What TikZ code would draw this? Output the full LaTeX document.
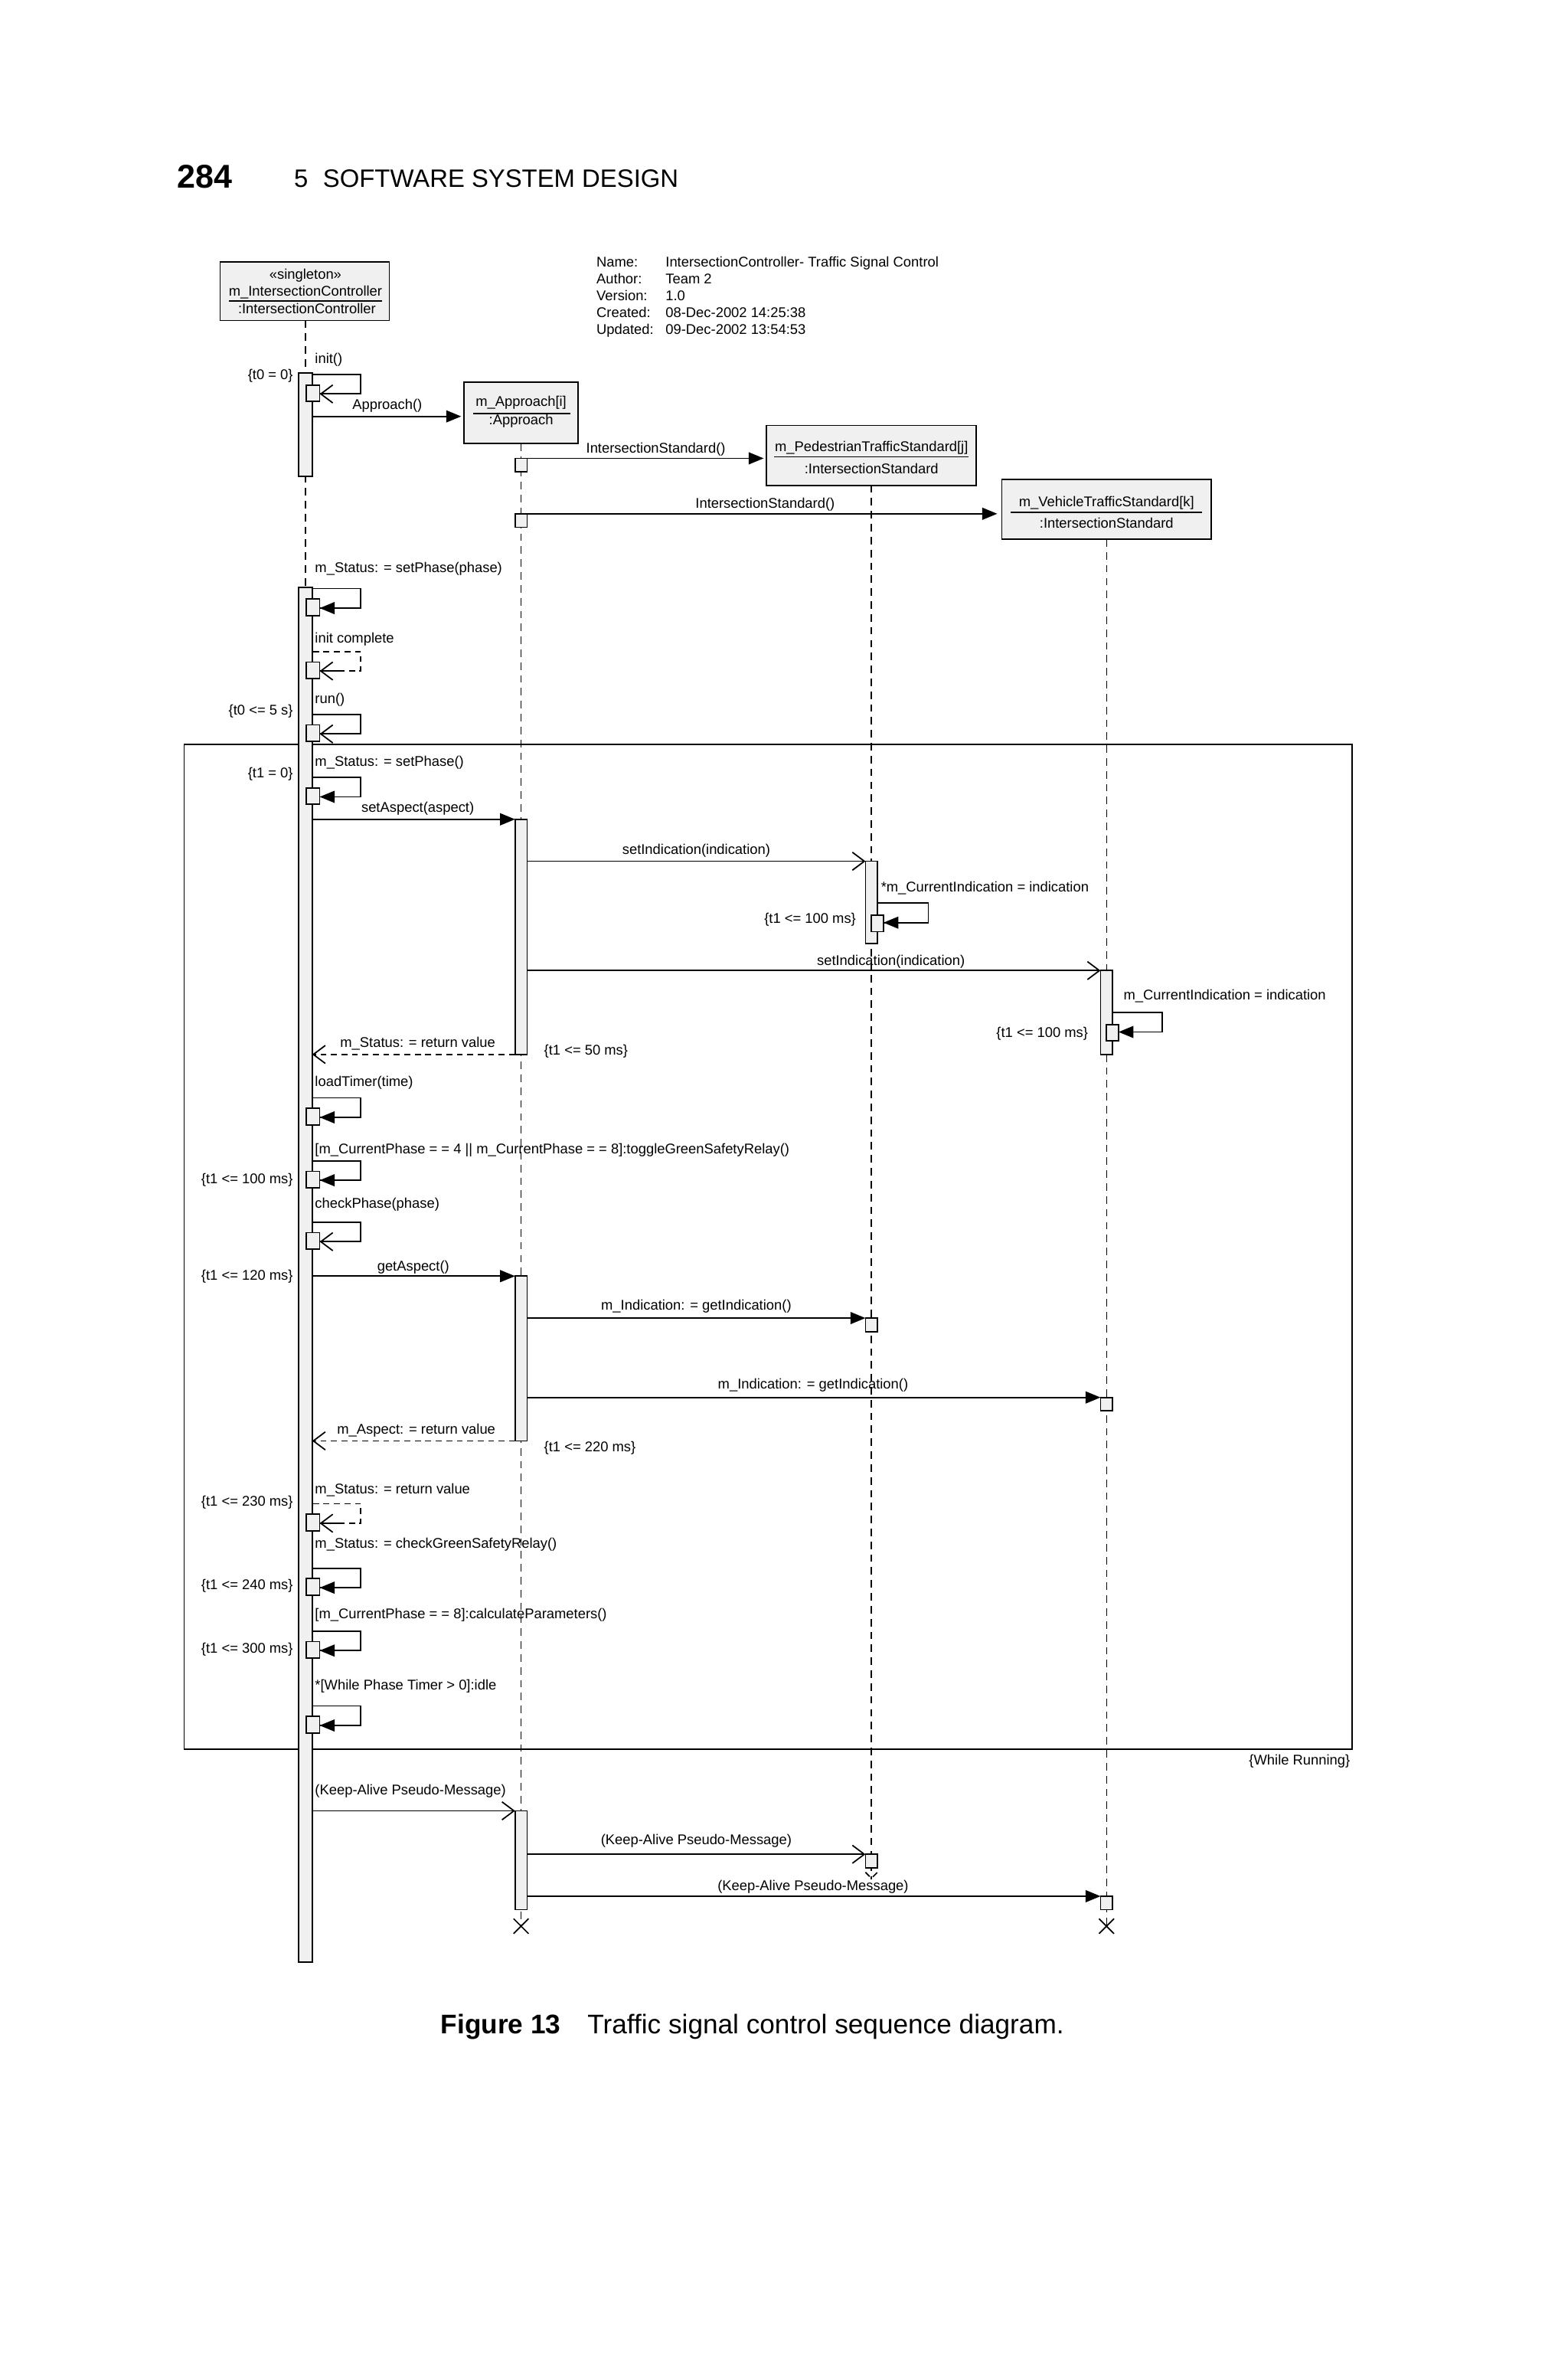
\documentclass[tikz,border=0pt]{standalone}
\usepackage{fontspec}
\setmainfont{Liberation Sans}
\usetikzlibrary{arrows.meta}
\definecolor{actgray}{HTML}{F0F0F0}
\newcommand\lbl[3]{\node[txt,anchor=west] at (#1,#2) {#3};}
\newcommand\rlbl[3]{\node[txt,anchor=east] at (#1,#2) {#3};}
\newcommand\clbl[3]{\node[txt] at (#1,#2) {#3};}
% self message on controller: #1 top y, #2 tip style, #3 line style
\newcommand\selfm[3]{%
  \draw[ln,#3] (209,#1) -- (241,#1) -- (241,{#1+13}) -- (213.5,{#1+13});
  \draw[ln,#2] (226,{#1+13}) -- (213.5,{#1+13});
  \draw[box] (204.5,{#1+7}) rectangle (213.5,{#1+18});}
\begin{document}
\begin{tikzpicture}[x=0.5pt,y=-0.5pt,
  txt/.style={font=\fontsize{4.7}{5.6}\selectfont,inner sep=0.5pt},
  ln/.style={line width=0.45pt},
  life/.style={line width=0.4pt,dash pattern=on 2.5pt off 1.8pt},
  box/.style={ln,fill=actgray},
  obj/.style={ln,fill=actgray,align=center,font=\fontsize{4.7}{5.6}\selectfont,inner sep=2pt},
  fill tip/.style={-{Triangle[length=5pt,width=4pt]}},
  open tip/.style={-{Straight Barb[length=4pt,width=6pt]}},
  none/.style={},
  dsh/.style={dash pattern=on 2pt off 1.5pt}]
\useasboundingbox (0,0) rectangle (1047,1581);
% page header and caption
\node[anchor=west,font=\fontsize{11}{13}\selectfont\bfseries,inner sep=0] (pg) at (118,118) {284};
\node[anchor=west,font=\fontsize{8.4}{10}\selectfont,inner sep=0] (ch) at (196,119) {5\hspace{5pt}SOFTWARE SYSTEM DESIGN};
\node[anchor=west,font=\fontsize{9}{11}\selectfont,inner sep=0] (cap) at (294,1353) {\textbf{Figure 13}\hspace{9pt}Traffic signal control sequence diagram.};
% info block
\node[txt,anchor=north west,align=left] (info) at (397,169) {\begin{tabular}{@{}l@{\hspace{4pt}}l@{}}Name: & IntersectionController- Traffic Signal Control\\ Author: & Team 2\\ Version: & 1.0\\ Created: & 08-Dec-2002 14:25:38\\ Updated: & 09-Dec-2002 13:54:53\end{tabular}};
% lifelines
\draw[life] (204,214) -- (204,1310);
\draw[life] (348,296) -- (348,1286);
\draw[life] (582,324) -- (582,1255);
\draw[life] (739,360) -- (739,1286);
% objects
\draw[box] (147,175) rectangle (260,214);
\node[txt] (c1) at (204,184) {<<singleton>>};
\node[txt] (c2) at (204,195) {m\_IntersectionController};
\draw[ln] (153,201) -- (255,201);
\node[txt] (c3) at (205,206) {:IntersectionController};
\draw[box] (310,255) rectangle (386,296);
\node[txt] (a1) at (348,269) {m\_Approach[i]};
\draw[ln] (316,276) -- (381,276);
\node[txt] (a2) at (348,281) {:Approach};
\draw[box] (512,284) rectangle (652,324);
\node[txt] (p1) at (582,299) {m\_PedestrianTrafficStandard[j]};
\draw[ln] (517,305) -- (647,305);
\node[txt] (p2) at (582,313) {:IntersectionStandard};
\draw[box] (669,320) rectangle (809,360);
\node[txt] (v1) at (739,336) {m\_VehicleTrafficStandard[k]};
\draw[ln] (675,342) -- (803,342);
\node[txt] (v2) at (739,349) {:IntersectionStandard};
% frame
\draw[ln] (123,497) rectangle (903,1168);
\rlbl{903}{1176}{\{While Running\}}
% controller activations
\draw[box] (199.5,249) rectangle (208.5,318);
\draw[box] (199.5,392) rectangle (208.5,1310);
% init
\lbl{209}{240}{init()}
\rlbl{197}{251}{\{t0 = 0\}}
\selfm{250}{open tip}{none}
\lbl{234}{271}{Approach()}
\draw[ln,fill tip] (208.5,278) -- (308,278);
% approach creates standards
\draw[box] (344,306) rectangle (352,315);
\clbl{438}{300}{IntersectionStandard()}
\draw[ln,fill tip] (352,306) -- (510,306);
\draw[box] (344,343) rectangle (352,352);
\clbl{511}{337}{IntersectionStandard()}
\draw[ln,fill tip] (352,343) -- (666,343);
% controller self messages
\lbl{209}{380}{m\_Status: = setPhase(phase)}
\selfm{393}{fill tip}{none}
\lbl{209}{427}{init complete}
\selfm{435}{open tip}{dsh}
\lbl{209}{467}{run()}
\rlbl{197}{475}{\{t0 <= 5 s\}}
\selfm{477}{open tip}{none}
\lbl{209}{509}{m\_Status: = setPhase()}
\rlbl{197}{517}{\{t1 = 0\}}
\selfm{519}{fill tip}{none}
% setAspect
\draw[box] (344,547) rectangle (352,704);
\clbl{279}{540}{setAspect(aspect)}
\draw[ln,fill tip] (208.5,547) -- (344,547);
\draw[box] (578,575) rectangle (586,630);
\clbl{465}{568}{setIndication(indication)}
\draw[ln,open tip] (352,575) -- (578,575);
\lbl{587}{593}{*m\_CurrentIndication = indication}
\draw[ln] (586,603) -- (620,603) -- (620,616) -- (590,616);
\draw[ln,fill tip] (604,616) -- (590,616);
\draw[box] (582,611) rectangle (590,622);
\rlbl{573}{614}{\{t1 <= 100 ms\}}
\draw[box] (735,648) rectangle (743,704);
\clbl{595}{642}{setIndication(indication)}
\draw[ln,open tip] (352,648) -- (735,648);
\lbl{749}{665}{m\_CurrentIndication = indication}
\draw[ln] (743,676) -- (776,676) -- (776,689) -- (747,689);
\draw[ln,fill tip] (761,689) -- (747,689);
\draw[box] (739,684) rectangle (747,695);
\rlbl{728}{690}{\{t1 <= 100 ms\}}
\clbl{279}{697}{m\_Status: = return value}
\draw[ln,dsh,open tip] (344,704) -- (208.5,704);
\lbl{362}{702}{\{t1 <= 50 ms\}}
% more self messages
\lbl{209}{723}{loadTimer(time)}
\selfm{733}{fill tip}{none}
\lbl{209}{768}{[m\_CurrentPhase = = 4 || m\_CurrentPhase = = 8]:toggleGreenSafetyRelay()}
\selfm{775}{fill tip}{none}
\rlbl{197}{788}{\{t1 <= 100 ms\}}
\lbl{209}{804}{checkPhase(phase)}
\selfm{816}{open tip}{none}
% getAspect
\draw[box] (344,852) rectangle (352,962);
\clbl{276}{846}{getAspect()}
\rlbl{197}{852}{\{t1 <= 120 ms\}}
\draw[ln,fill tip] (208.5,852) -- (344,852);
\clbl{465}{872}{m\_Indication: = getIndication()}
\draw[ln,fill tip] (352,880) -- (578,880);
\draw[box] (578,880) rectangle (586,889);
\clbl{543}{925}{m\_Indication: = getIndication()}
\draw[ln,fill tip] (352,933) -- (735,933);
\draw[box] (735,933) rectangle (743,942);
\clbl{278}{955}{m\_Aspect: = return value}
\draw[ln,dsh,open tip] (344,962) -- (208.5,962);
\lbl{362}{967}{\{t1 <= 220 ms\}}
\lbl{209}{995}{m\_Status: = return value}
\selfm{1004}{open tip}{dsh}
\rlbl{197}{1003}{\{t1 <= 230 ms\}}
\lbl{209}{1031}{m\_Status: = checkGreenSafetyRelay()}
\selfm{1047}{fill tip}{none}
\rlbl{197}{1059}{\{t1 <= 240 ms\}}
\lbl{209}{1078}{[m\_CurrentPhase = = 8]:calculateParameters()}
\selfm{1089}{fill tip}{none}
\rlbl{197}{1101}{\{t1 <= 300 ms\}}
\lbl{209}{1126}{*[While Phase Timer > 0]:idle}
\selfm{1139}{fill tip}{none}
% keep alive
\lbl{209}{1196}{(Keep-Alive Pseudo-Message)}
\draw[box] (344,1209) rectangle (352,1275);
\draw[ln,open tip] (208.5,1209) -- (344,1209);
\clbl{465}{1229}{(Keep-Alive Pseudo-Message)}
\draw[ln,open tip] (352,1238) -- (578,1238);
\draw[box] (578,1238) rectangle (586,1247);
\draw[ln,dsh] (578,1250) -- (582,1254) -- (586,1250);
\clbl{543}{1260}{(Keep-Alive Pseudo-Message)}
\draw[ln,fill tip] (352,1266) -- (735,1266);
\draw[box] (735,1266) rectangle (743,1275);
\draw[ln] (343,1281) -- (353,1291) (343,1291) -- (353,1281);
\draw[ln] (734,1281) -- (744,1291) (734,1291) -- (744,1281);
\end{tikzpicture}
\end{document}
